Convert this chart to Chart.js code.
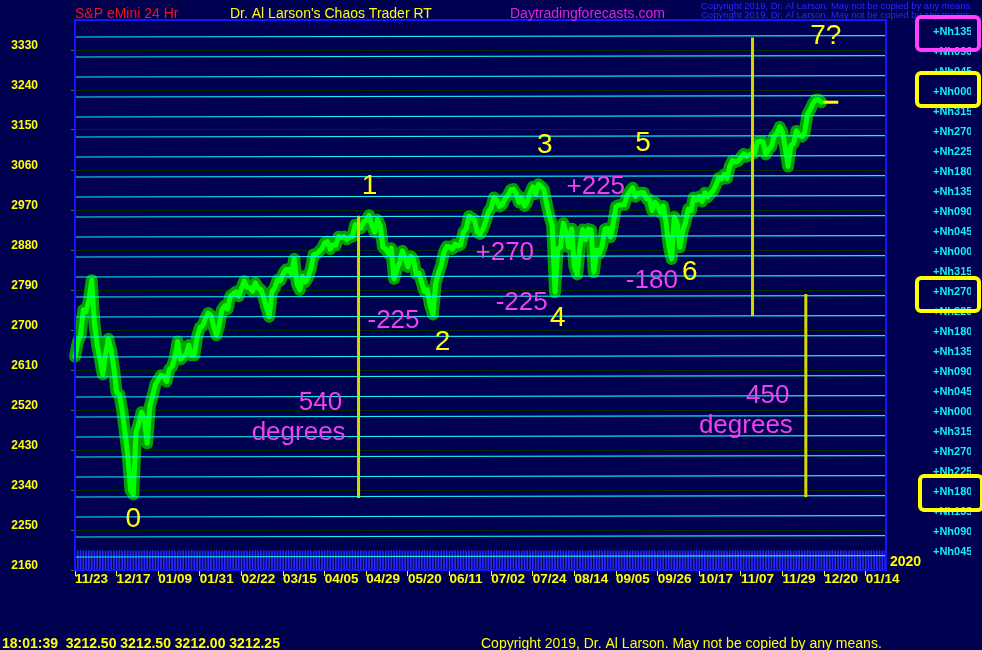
<!DOCTYPE html>
<html><head><meta charset="utf-8">
<script src="https://cdn.jsdelivr.net/npm/chart.js@4/dist/chart.umd.min.js"></script>
<style>html,body{margin:0;padding:0;background:#000050;overflow:hidden}canvas{display:block}</style>
</head><body>
<canvas id="c" width="982" height="650"></canvas>
<script>
// ---------- DATA ----------
// x axis: trading-day index since 11/23/2018, a labelled tick every 15 trading days
const xTickIndex = [0,15,30,45,60,75,90,105,120,135,150,165,180,195,210,225,240,255,270,285];
const xTickLabels = ['11/23','12/17','01/09','01/31','02/22','03/15','04/05','04/29','05/20','06/11',
                     '07/02','07/24','08/14','09/05','09/26','10/17','11/07','11/29','12/20','01/14'];
const yTickValues = [2160,2250,2340,2430,2520,2610,2700,2790,2880,2970,3060,3150,3240,3330];

// S&P eMini price, one value per trading day (index 0 = 11/23/2018)
const priceValues = [
 2640,2672,2688,2745,2742,2766,2812,2715,2665,2635, 2600,2645,2680,2655,2615,2560,2555,2520,2470,2420,
 2340,2330,2470,2490,2515,2500,2445,2530,2552,2578, 2588,2598,2596,2584,2612,2618,2638,2674,2634,2640,
 2645,2666,2643,2643,2684,2706,2709,2726,2738,2733, 2708,2688,2712,2746,2755,2747,2777,2781,2786,2776,
 2794,2810,2796,2795,2787,2806,2794,2791,2773,2750, 2730,2786,2795,2813,2811,2826,2836,2836,2827,2860,
 2804,2790,2821,2808,2818,2838,2870,2871,2877,2883, 2896,2899,2882,2892,2891,2910,2908,2910,2904,2909,
 2910,2937,2931,2929,2943,2947,2958,2935,2920,2948, 2935,2886,2882,2872,2884,2815,2836,2852,2878,2862,
 2842,2866,2858,2826,2828,2806,2786,2790,2755,2735, 2805,2828,2846,2875,2888,2887,2882,2893,2889,2892,
 2920,2928,2956,2952,2947,2920,2916,2927,2944,2966, 2975,2998,2992,2978,2982,2996,3002,3015,3017,3007,
 2987,2998,2979,2988,3008,3022,3006,3028,3023,3016, 2983,2956,2935,2785,2883,2886,2940,2920,2886,2928,
 2843,2825,2890,2926,2903,2927,2925,2830,2880,2872, 2890,2927,2929,2909,2940,2978,2981,2982,2982,3002,
 3012,3020,3000,3008,3009,3009,2995,2994,2969,2987, 2980,2964,2979,2943,2890,2860,2954,2941,2886,2922,
 2941,2972,2969,2998,2992,3000,2989,3009,2999,3007, 3013,3026,3042,3039,3050,3041,3069,3081,3078,3080,
 3088,3096,3090,3094,3097,3099,3123,3125,3123,3095, 3107,3113,3136,3143,3157,3144,3110,3068,3115,3120,
 3148,3138,3135,3145,3185,3196,3210,3218,3218,3212.5
];
const lastPrice = 3212.5;

// planetary harmonic (Nh) lines, top to bottom: value at left edge, value at right edge
const nhLabels = ['+Nh135','+Nh090','+Nh045','+Nh000','+Nh315','+Nh270','+Nh225','+Nh180','+Nh135',
  '+Nh090','+Nh045','+Nh000','+Nh315','+Nh270','+Nh225','+Nh180','+Nh135','+Nh090','+Nh045','+Nh000',
  '+Nh315','+Nh270','+Nh225','+Nh180','+Nh135','+Nh090','+Nh045'];
const nhLeftValues = [3359.25,3314.25,3269.25,3224.25,3179.25,3134.25,3089.25,3044.25,2999.25,2954.25,
  2909.25,2864.25,2819.25,2774.25,2729.25,2684.25,2639.25,2594.25,2549.25,2504.25,2459.25,2414.25,
  2369.25,2324.25,2279.25,2234.25,2189.25];
const nhRightValues = [3362.5,3317.5,3272.5,3227.5,3182.5,3137.5,3092.5,3047.5,3002.5,2957.5,2912.5,
  2867.5,2822.5,2777.5,2732.5,2687.5,2642.5,2597.5,2552.5,2507.5,2462.5,2417.5,2372.5,2327.5,2282.5,
  2237.5,2192.5];

// vertical yellow cycle-measure lines
const cycleLineIdx  = [102.2, 244.2, 263.4];
const cycleLineLow  = [2322, 2731.5, 2324];
const cycleLineHigh = [2957, 3358, 2781];

// wave count labels (yellow) and degree labels (magenta), anchored in data coordinates
const waveText = ['0','1','2','3','4','5','6','7?'];
const waveIdx  = [21.0, 106.2, 132.5, 169.3, 174.0, 204.7, 221.6, 270.6];
const waveVal  = [2274.75, 3024, 2673, 3116.25, 2727, 3120.75, 2830.5, 3361.5];
const degText = ['-225','+270','-225','+225','-180','540','degrees','450','degrees'];
const degIdx  = [114.8, 154.9, 161.0, 187.7, 207.9, 88.5, 80.6, 249.7, 241.8];
const degVal  = [2720.25, 2873.25, 2760.75, 3021.75, 2810.25, 2535.75, 2468.25, 2551.5, 2484];

const dayCount = 293; // day marker strip across the whole time axis
const stripTop = 2203;

// ---------- CHART ----------
const FONT = '"Liberation Sans", Arial, sans-serif';
const xMax = 292.3, yMin = 2160, yMax = 3397.5;

const datasets = [];
const pricePts = priceValues.map((v,i)=>({x:i,y:v}));
datasets.push({type:'line', data:pricePts, borderColor:'#00a000', borderWidth:12, pointRadius:0,
  borderJoinStyle:'round', borderCapStyle:'round', tension:0, order:3, clip:8});
datasets.push({type:'line', data:pricePts, borderColor:'#00ff00', borderWidth:5, pointRadius:0,
  borderJoinStyle:'round', borderCapStyle:'round', tension:0, order:2, clip:8});
nhLeftValues.forEach((v,i)=>{
  datasets.push({type:'line', data:[{x:0,y:v},{x:xMax,y:nhRightValues[i]}], borderColor:'#10f0f0',
    borderWidth:1.2, pointRadius:0, order:1});
});
cycleLineIdx.forEach((xi,i)=>{
  datasets.push({type:'line', data:[{x:xi,y:cycleLineLow[i]},{x:xi,y:cycleLineHigh[i]}],
    borderColor:'#d8d800', borderWidth:3, pointRadius:0, order:0});
});
datasets.push({type:'line', data:[{x:269.7,y:lastPrice},{x:275.1,y:lastPrice}], borderColor:'#ffff00',
  borderWidth:3, pointRadius:0, order:0});
const strip = [];
for (let i=0;i<dayCount;i++) strip.push({x:i, y:[yMin, stripTop]});
datasets.push({type:'bar', data:strip, backgroundColor:'#2a2aff', barThickness:1, grouped:false, order:5});

const overlay = {
  id:'overlay',
  afterDatasetsDraw(chart){
    const {ctx, chartArea:a, scales:{x,y}} = chart;
    ctx.save();
    ctx.strokeStyle='#1414ff'; ctx.lineWidth=2;
    ctx.strokeRect(a.left, a.top, a.right-a.left, a.bottom-a.top);
    ctx.textAlign='center'; ctx.textBaseline='middle';
    ctx.fillStyle='#ffff00'; ctx.font='28px '+FONT;
    waveText.forEach((t,i)=>ctx.fillText(t, x.getPixelForValue(waveIdx[i]), y.getPixelForValue(waveVal[i])));
    ctx.fillStyle='#f040f0'; ctx.font='26px '+FONT;
    degText.forEach((t,i)=>ctx.fillText(t, x.getPixelForValue(degIdx[i]), y.getPixelForValue(degVal[i])));
    ctx.restore();
  },
  afterDraw(chart){
    const {ctx} = chart;
    ctx.save();
    ctx.textBaseline='alphabetic'; ctx.textAlign='left';
    ctx.font='14px '+FONT;
    ctx.fillStyle='#ff1010'; ctx.fillText('S&P eMini 24 Hr', 75, 18);
    ctx.fillStyle='#ffff00'; ctx.fillText("Dr. Al Larson's Chaos Trader RT", 230, 18);
    ctx.fillStyle='#e020e0'; ctx.fillText('Daytradingforecasts.com', 510, 18);
    ctx.font='9.5px '+FONT; ctx.fillStyle='#2828ff';
    ctx.fillText('Copyright 2019, Dr. Al Larson. May not be copied by any means.', 701, 9);
    ctx.fillText('Copyright 2019, Dr. Al Larson. May not be copied by any means.', 701, 18);
    ctx.font='bold 14px '+FONT; ctx.fillStyle='#ffff00';
    ctx.fillText('2020', 890, 566);
    ctx.fillText('18:01:39  3212.50 3212.50 3212.00 3212.25', 2, 648);
    ctx.font='14px '+FONT;
    ctx.fillText('Copyright 2019, Dr. Al Larson. May not be copied by any means.', 481, 648);
    ctx.lineWidth=4; ctx.lineJoin='round';
    const boxes = [['#ff40ff',917,17,62,33],['#ffff00',917,73,62,33],['#ffff00',917,278,62,33],['#ffff00',920,476,62,34]];
    boxes.forEach(b=>{ctx.strokeStyle=b[0]; ctx.beginPath(); ctx.roundRect(b[1],b[2],b[3],b[4],4); ctx.stroke();});
    ctx.restore();
  }
};

const zeroPad = s => { s.paddingTop = 0; s.paddingBottom = 0; s.paddingLeft = 0; s.paddingRight = 0; };

new Chart(document.getElementById('c'), {
  data:{datasets},
  options:{
    responsive:false, animation:false, devicePixelRatio:1,
    layout:{padding:{top:20,right:11,left:0,bottom:0}},
    plugins:{legend:{display:false}, tooltip:{enabled:false}},
    scales:{
      x:{type:'linear', position:'bottom', min:0, max:xMax, offset:false,
        afterBuildTicks:s=>{s.ticks = xTickIndex.map(v=>({value:v}));},
        afterFit:s=>{s.height=80; zeroPad(s);},
        ticks:{autoSkip:false, maxRotation:0, align:'start', padding:0, color:'#ffff00',
          font:{family:FONT, size:13.5, weight:'bold', lineHeight:'6px'},
          callback:(v,i)=>xTickLabels[i]},
        grid:{drawOnChartArea:false, color:'#ffff00', tickLength:6, offset:false},
        border:{display:false}},
      y:{type:'linear', position:'left', min:yMin, max:yMax,
        afterBuildTicks:s=>{s.ticks = yTickValues.map(v=>({value:v}));},
        afterFit:s=>{s.width=75; zeroPad(s);},
        ticks:{autoSkip:false, padding:33, color:'#ffff00', font:{family:FONT, size:12, weight:'bold', lineHeight:'8px'},
          callback:v=>[String(v),'']},
        grid:{color:'#003000', tickColor:'#00a000', tickLength:4},
        border:{display:false}},
      y2:{type:'linear', position:'right', min:yMin, max:yMax,
        afterBuildTicks:s=>{s.ticks = nhLeftValues.map(v=>({value:v}));},
        afterFit:s=>{s.width=85; zeroPad(s);},
        ticks:{autoSkip:false, padding:47, crossAlign:'near', color:'#10f0f0',
          font:{family:FONT, size:11, weight:'bold', lineHeight:'10px'},
          callback:(v,i)=>[nhLabels[i],'']},
        grid:{display:false, drawTicks:false},
        border:{display:false}}
    }
  },
  plugins:[overlay]
});
</script>
</body></html>
